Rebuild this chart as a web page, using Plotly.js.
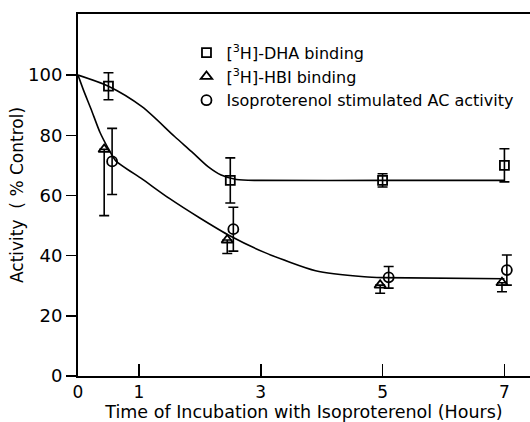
<!DOCTYPE html>
<html>
<head>
<meta charset="utf-8">
<script src="https://cdn.plot.ly/plotly-3.0.1.min.js"></script>
<style>html,body{margin:0;padding:0;background:#fff;}#chart{width:530px;height:422px;}</style>
</head>
<body>
<div id="chart"></div>
<script>
// Measured points
const dhaTime = [0.5, 2.5, 5.0, 7.0];
const dhaValue = [96.3, 65.0, 65.0, 70.0];
const dhaErr = [4.5, 7.5, 2.2, 5.5];

const hbiTime = [0.43, 2.45, 4.96, 6.96];
const hbiValue = [75.3, 45.2, 30.2, 31.0];
const hbiErrPlus = [0, 0, 0, 0];
const hbiErrMinus = [22, 4.5, 2.7, 3.0];

const acTime = [0.56, 2.55, 5.1, 7.04];
const acValue = [71.3, 48.8, 32.8, 35.2];
const acErr = [11, 7.3, 3.6, 5.0];

// Fitted curves
const upperCurveTime = [0, 0.5, 1.05, 1.59, 1.87, 2.14, 2.35, 2.6, 3.0, 5.0, 7.0];
const upperCurveValue = [100, 96.3, 89.5, 79.5, 74.5, 69.5, 66.8, 65.3, 65.0, 65.0, 65.0];
const lowerCurveTime = [0, 0.09, 0.22, 0.36, 0.5, 0.62, 1.05, 1.5, 2.0, 2.5, 3.07, 3.9, 4.7, 5.0, 7.0];
const lowerCurveValue = [100, 95, 88.4, 81, 75.5, 71.5, 65.5, 59.0, 52.5, 46.5, 41.0, 35.0, 33.0, 32.7, 32.3];

const xTicks = [0, 1, 3, 5, 7];
const yTicks = [0, 20, 40, 60, 80, 100];

const F = "DejaVu Sans, sans-serif";

const traces = [
  {x: upperCurveTime, y: upperCurveValue, mode: 'lines', line: {color: '#000', width: 1.6, shape: 'spline', smoothing: 0.8}, showlegend: false, hoverinfo: 'skip'},
  {x: lowerCurveTime, y: lowerCurveValue, mode: 'lines', line: {color: '#000', width: 1.6, shape: 'spline', smoothing: 0.6}, showlegend: false, hoverinfo: 'skip'},
  {x: dhaTime, y: dhaValue, mode: 'markers', name: '[<sup>3</sup>H]-DHA binding',
   marker: {symbol: 'square-open', size: 9, color: '#000', line: {width: 1.8}},
   error_y: {type: 'data', array: dhaErr, color: '#000', thickness: 1.6, width: 5}},
  {x: hbiTime, y: hbiValue, mode: 'markers', name: '[<sup>3</sup>H]-HBI binding',
   marker: {symbol: 'triangle-up-open', size: 10, color: '#000', line: {width: 1.8}},
   error_y: {type: 'data', symmetric: false, array: hbiErrPlus, arrayminus: hbiErrMinus, color: '#000', thickness: 1.6, width: 5}},
  {x: acTime, y: acValue, mode: 'markers', name: 'Isoproterenol stimulated AC activity',
   marker: {symbol: 'circle-open', size: 10, color: '#000', line: {width: 1.8}},
   error_y: {type: 'data', array: acErr, color: '#000', thickness: 1.6, width: 5}}
];

const layout = {
  width: 530, height: 422,
  margin: {l: 78, r: 0, t: 14, b: 46},
  paper_bgcolor: '#fff', plot_bgcolor: '#fff',
  font: {family: F, color: '#000', size: 18},
  xaxis: {
    range: [0, 7.42], tickvals: xTicks, ticktext: xTicks.map(String),
    showgrid: false, zeroline: false, showline: true, mirror: true,
    linecolor: '#000', linewidth: 2, ticks: 'inside', ticklen: 12, tickwidth: 1.5, tickcolor: '#000',
    tickfont: {family: F, size: 17},
    title: {text: 'Time of Incubation with Isoproterenol (Hours)', font: {family: F, size: 17.5}, standoff: 2}
  },
  yaxis: {
    range: [0, 120.3], tickvals: yTicks, ticktext: yTicks.map(String),
    showgrid: false, zeroline: false, showline: true,
    linecolor: '#000', linewidth: 2, ticks: 'outside', ticklen: 10, tickwidth: 1.5, tickcolor: '#000',
    tickfont: {family: F, size: 18},
    title: {text: 'Activity  ( % Control)', font: {family: F, size: 17}, standoff: 0}
  },
  legend: {x: 0.24, y: 0.94, xanchor: 'left', yanchor: 'top', bgcolor: 'rgba(0,0,0,0)',
    font: {family: F, size: 16}, tracegroupgap: 0, itemwidth: 30},
  showlegend: true
};

Plotly.newPlot('chart', traces, layout, {displayModeBar: false, staticPlot: true});
</script>
</body>
</html>
